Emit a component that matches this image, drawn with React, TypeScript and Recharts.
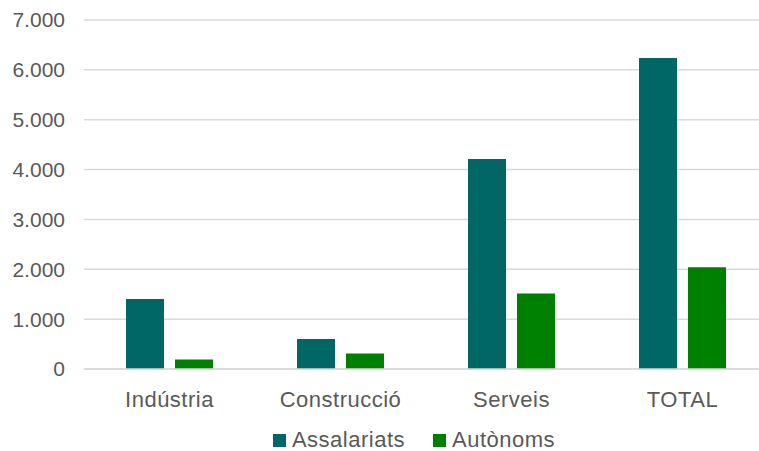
import { Bar, BarChart, CartesianGrid, Legend, XAxis, YAxis } from "recharts";

const categories = ["Indústria", "Construcció", "Serveis", "TOTAL"];
const assalariats = [1406, 602, 4211, 6239];
const autonoms = [193, 313, 1514, 2042];
const yTicks = [0, 1000, 2000, 3000, 4000, 5000, 6000, 7000];

const TEAL = "#006666";
const GREEN = "#008000";
const GRID = "#d9d9d9";
const TEXT = "#595959";
const FONT = '"Liberation Sans", Arial, sans-serif';

const data = categories.map((name, i) => ({
  name,
  assalariats: assalariats[i],
  autonoms: autonoms[i],
}));

function thousands(v: number): string {
  return String(v).replace(/\B(?=(\d{3})+(?!\d))/g, ".");
}

function LegendContent() {
  const items = [
    { color: TEAL, label: "Assalariats" },
    { color: GREEN, label: "Autònoms" },
  ];
  return (
    <div
      style={{
        height: 42,
        boxSizing: "border-box",
        paddingTop: 20,
        paddingLeft: 60,
        display: "flex",
        justifyContent: "center",
        alignItems: "center",
        gap: 28,
        fontFamily: FONT,
        fontSize: 22,
        letterSpacing: 0.5,
        color: TEXT,
      }}
    >
      {items.map((it) => (
        <span key={it.label} style={{ display: "flex", alignItems: "center", gap: 6, height: 22 }}>
          <span style={{ width: 13, height: 13, background: it.color, display: "inline-block" }} />
          {it.label}
        </span>
      ))}
    </div>
  );
}

export default function App() {
  return (
    <div style={{ position: "absolute", left: 0, top: 0, width: 759, height: 451, background: "#fff" }}>
      <BarChart
        width={759}
        height={451}
        data={data}
        margin={{ top: 20, right: -9, bottom: 0, left: 0 }}
        barGap={11}
        barSize={38}
      >
        <CartesianGrid stroke={GRID} strokeWidth={1.5} vertical={false} />
        <XAxis
          dataKey="name"
          height={40}
          tick={{ fill: TEXT, fontSize: 22, fontFamily: FONT, letterSpacing: 0.5 }}
          axisLine={{ stroke: GRID, strokeWidth: 1.5 }}
          tickLine={false}
          tickMargin={16}
        />
        <YAxis
          width={84}
          domain={[0, 7000]}
          ticks={yTicks}
          tickFormatter={thousands}
          tick={{ fill: TEXT, fontSize: 21, fontFamily: FONT }}
          axisLine={false}
          tickLine={false}
          tickMargin={13}
        />
        <Legend verticalAlign="bottom" content={<LegendContent />} />
        <Bar dataKey="assalariats" name="Assalariats" fill={TEAL} isAnimationActive={false} />
        <Bar dataKey="autonoms" name="Autònoms" fill={GREEN} isAnimationActive={false} />
      </BarChart>
    </div>
  );
}
